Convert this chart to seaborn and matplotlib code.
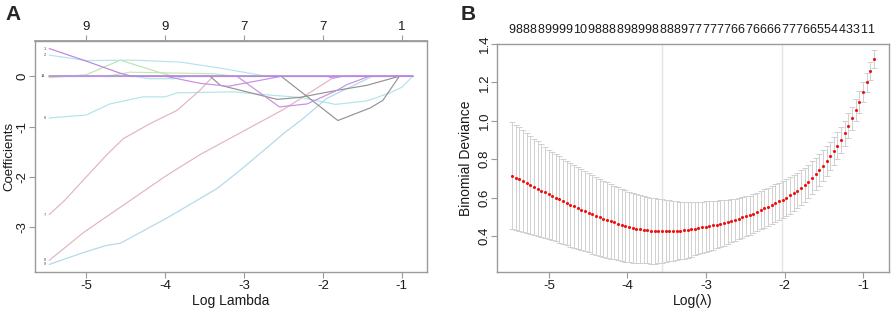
import numpy as np
import pandas as pd
import matplotlib
matplotlib.use("Agg")
import matplotlib.pyplot as plt
import matplotlib.transforms as mtransforms
import seaborn as sns

sns.set_theme(style="white")
plt.rcParams["font.family"] = ["Liberation Sans", "DejaVu Sans"]
plt.rcParams["axes.unicode_minus"] = False

# ---------------- Panel A: coefficient paths (knots) -------------
p1_x = [-5.47, -5.0, -4.57, -4.42, -0.86]
p1_y = [0.55, 0.30, 0.06, 0.0, 0.0]
p2_x = [-5.47, -5.0, -4.4, -3.8, -3.3, -2.71, -0.86]
p2_y = [0.42, 0.31, 0.32, 0.28, 0.16, 0.0, 0.0]
p3_x = [-5.47, -5.0, -4.57, -4.04, -3.9, -0.86]
p3_y = [-0.03, 0.03, 0.32, 0.06, 0.0, 0.0]
p4_x = [-5.47, -4.75, -4.45, -3.4, -3.1, -0.86]
p4_y = [0.0, 0.0, 0.08, 0.05, 0.0, 0.0]
p5_x = [-5.47, -4.4, -4.2, -3.9, -3.7, -0.86]
p5_y = [0.0, 0.0, -0.05, -0.05, 0.0, 0.0]
p6_x = [-5.47, -5.0, -4.7, -4.28, -4.0, -3.85, -3.13, -2.71, -2.29, -1.84, -1.44, -1.15, -1.0, -0.86]
p6_y = [-0.83, -0.77, -0.55, -0.41, -0.41, -0.33, -0.31, -0.37, -0.42, -0.56, -0.49, -0.33, -0.22, 0.0]
p7_x = [-5.47, -5.27, -4.74, -4.53, -4.19, -3.85, -3.56, -3.39, -0.86]
p7_y = [-2.75, -2.46, -1.56, -1.24, -0.94, -0.68, -0.28, 0.0, 0.0]
p8_x = [-5.47, -5.03, -3.98, -3.56, -2.5, -1.84, -0.86]
p8_y = [-3.66, -3.10, -1.97, -1.56, -0.66, 0.0, 0.0]
p9_x = [-5.47, -5.03, -4.74, -4.57, -3.98, -3.34, -3.05, -2.80, -2.5, -2.25, -1.95, -1.66, -1.37, -0.86]
p9_y = [-3.74, -3.5, -3.36, -3.32, -2.82, -2.23, -1.87, -1.54, -1.14, -0.84, -0.44, -0.22, 0.0, 0.0]
p10_x = [-5.47, -3.43, -3.30, -2.58, -2.29, -1.82, -1.44, -1.03, -0.86]
p10_y = [0.0, 0.0, -0.18, -0.46, -0.42, -0.28, -0.18, 0.0, 0.0]
p11_x = [-5.47, -2.53, -1.81, -1.40, -1.24, -1.03, -0.86]
p11_y = [0.0, 0.0, -0.88, -0.63, -0.48, 0.0, 0.0]
p12_x = [-5.47, -3.09, -2.55, -2.20, -1.82, -1.70, -1.41, -0.86]
p12_y = [0.0, 0.0, -0.61, -0.55, -0.28, -0.17, 0.0, 0.0]
p13_x = [-5.47, -4.0, -3.56, -3.2, -2.52, -0.86]
p13_y = [0.0, 0.0, -0.14, -0.20, 0.0, 0.0]
p14_x = [-5.47, -0.86]
p14_y = [0.0, 0.0]
p15_x = [-5.47, -1.95, -1.87, -1.75, -0.86]
p15_y = [0.0, 0.0, -0.04, 0.0, 0.0]

paths = [
    (p14_x, p14_y, "#8a9ae6"),
    (p4_x, p4_y, "#c2e8b8"),
    (p5_x, p5_y, "#b4e2ea"),
    (p3_x, p3_y, "#bde4ae"),
    (p2_x, p2_y, "#b2e6ec"),
    (p6_x, p6_y, "#b0e4ea"),
    (p7_x, p7_y, "#e2b4c2"),
    (p8_x, p8_y, "#e2b4c2"),
    (p9_x, p9_y, "#b2d8e8"),
    (p10_x, p10_y, "#939393"),
    (p11_x, p11_y, "#939393"),
    (p12_x, p12_y, "#c690e2"),
    (p13_x, p13_y, "#c690e2"),
    (p15_x, p15_y, "#bb98e2"),
    (p1_x, p1_y, "#bb84e0"),
]
path_labels = ["14", "4", "5", "3", "2", "6", "7", "8", "9", "10", "11", "12", "13", "15", "1"]

top_a_ticks = [-5, -4, -3, -2, -1]
top_a_labels = ["9", "9", "7", "7", "1"]

# ---------------- Panel B: cross-validation curve ----------------------------------
log_lambda_start = -5.47
log_lambda_end = -0.86
n_lambda = 100
cvm = [0.714, 0.704, 0.695, 0.685, 0.676, 0.666, 0.656, 0.646, 0.636, 0.627,
       0.617, 0.608, 0.599, 0.590, 0.580, 0.571, 0.562, 0.554, 0.545, 0.537,
       0.528, 0.520, 0.512, 0.504, 0.496, 0.489, 0.482, 0.476, 0.470, 0.464,
       0.458, 0.452, 0.447, 0.442, 0.438, 0.434, 0.432, 0.430, 0.428, 0.426,
       0.425, 0.425, 0.425, 0.426, 0.426, 0.427, 0.428, 0.430, 0.432, 0.435,
       0.438, 0.441, 0.444, 0.448, 0.451, 0.455, 0.459, 0.464, 0.468, 0.473,
       0.478, 0.484, 0.490, 0.496, 0.502, 0.508, 0.516, 0.525, 0.534, 0.543,
       0.553, 0.562, 0.571, 0.580, 0.589, 0.599, 0.611, 0.623, 0.636, 0.650,
       0.665, 0.683, 0.702, 0.722, 0.744, 0.766, 0.790, 0.816, 0.843, 0.871,
       0.900, 0.935, 0.975, 1.013, 1.055, 1.098, 1.150, 1.200, 1.258, 1.322]
cvsd = [0.280, 0.275, 0.270, 0.265, 0.260, 0.255, 0.250, 0.246, 0.241, 0.237,
        0.232, 0.230, 0.227, 0.225, 0.222, 0.220, 0.218, 0.215, 0.213, 0.210,
        0.208, 0.206, 0.204, 0.203, 0.201, 0.199, 0.197, 0.195, 0.192, 0.190,
        0.188, 0.186, 0.184, 0.181, 0.179, 0.177, 0.175, 0.173, 0.172, 0.170,
        0.168, 0.165, 0.162, 0.159, 0.156, 0.153, 0.150, 0.148, 0.145, 0.143,
        0.140, 0.137, 0.135, 0.132, 0.130, 0.127, 0.124, 0.121, 0.118, 0.115,
        0.112, 0.110, 0.108, 0.106, 0.104, 0.102, 0.101, 0.101, 0.100, 0.100,
        0.099, 0.099, 0.098, 0.098, 0.097, 0.097, 0.096, 0.094, 0.093, 0.091,
        0.090, 0.088, 0.086, 0.084, 0.082, 0.080, 0.078, 0.075, 0.073, 0.070,
        0.068, 0.065, 0.063, 0.060, 0.058, 0.055, 0.053, 0.050, 0.048, 0.045]
nzero_labels = [9, 8, 8, 8, 8, 9, 9, 9, 9, 10, 9, 8, 8, 8, 8, 9, 8, 9, 9, 8, 8, 8, 8, 9,
                7, 7, 7, 7, 7, 7, 6, 6, 7, 6, 6, 6, 6, 7, 7, 7, 6, 6, 5, 5, 4, 4, 3, 3, 1, 1]
lambda_min_log = -3.56
lambda_1se_log = -2.03

log_lambda = np.linspace(log_lambda_start, log_lambda_end, n_lambda)
df_cv = pd.DataFrame({"loglam": log_lambda, "cvm": cvm, "cvsd": cvsd})

# ---------------- Figure ---------------------------------------------------------
W, H = 892, 309
fig = plt.figure(figsize=(W / 100, H / 100), dpi=100)

def px_axes(l, t, r, b):
    return fig.add_axes([l / W, 1 - b / H, (r - l) / W, (b - t) / H])

axA = px_axes(35, 41, 427, 272)
axB = px_axes(497, 44, 889, 272)

box_col = "#9a9a9a"
txt_col = "#1a1a1a"

def style(ax):
    for s in ax.spines.values():
        s.set_color(box_col)
        s.set_linewidth(1.0)
        s.set_visible(True)
    ax.tick_params(axis="both", direction="out", length=4, width=0.8, color=box_col,
                   labelsize=9.5, labelcolor=txt_col, pad=2, bottom=True, left=True)
    ax.tick_params(axis="y", pad=0.5)
    ax.grid(False)
    ax.set_facecolor("white")
    for lab in ax.get_yticklabels():
        lab.set_rotation(90)
        lab.set_va("center")

# Panel A
labelled_starts = []
for (xs, ys, c), lab in zip(paths, path_labels):
    sns.lineplot(x=xs, y=ys, ax=axA, color=c, linewidth=0.85, sort=False, estimator=None)
    if all(abs(ys[0] - v) > 0.06 for v in labelled_starts):
        axA.text(-5.515, ys[0], lab, fontsize=2.8, color="#444444", ha="right", va="center")
        labelled_starts.append(ys[0])

axA.set_xlim(-5.65, -0.68)
axA.set_ylim(-3.89, 0.70)
axA.set_xticks([-5, -4, -3, -2, -1])
axA.set_yticks([0, -1, -2, -3])
axA.set_yticklabels(["0", "-1", "-2", "-3"])
style(axA)
axA.set_xlabel("Log Lambda", fontsize=10, color=txt_col, labelpad=1)
axA.set_ylabel("Coefficients", fontsize=9.5, color=txt_col)
axA.yaxis.set_label_coords((15 - 35) / 392, 0.5)
secA = axA.secondary_xaxis("top")
secA.set_xticks(top_a_ticks)
secA.set_xticklabels(top_a_labels)
secA.tick_params(direction="out", length=4, width=0.8, color=box_col, labelsize=9.5,
                 labelcolor=txt_col, pad=2)
secA.spines["top"].set_color(box_col)

# Panel B
axB.axvline(lambda_min_log, color="#e4e4e4", linewidth=1.0, zorder=0)
axB.axvline(lambda_1se_log, color="#e4e4e4", linewidth=1.0, zorder=0)
axB.errorbar(df_cv["loglam"], df_cv["cvm"], yerr=df_cv["cvsd"], fmt="none",
             ecolor="#d0d0d0", elinewidth=0.7, capsize=2.3, capthick=0.7, zorder=1)
sns.scatterplot(data=df_cv, x="loglam", y="cvm", ax=axB, color="#ee1111", s=5,
                linewidth=0, zorder=3)
axB.set_xlim(-5.66, -0.67)
axB.set_ylim(0.212, 1.40)
axB.set_xticks([-5, -4, -3, -2, -1])
axB.set_yticks([0.4, 0.6, 0.8, 1.0, 1.2, 1.4])
axB.set_yticklabels(["0.4", "0.6", "0.8", "1.0", "1.2", "1.4"])
style(axB)
axB.set_xlabel("Log(λ)", fontsize=10, color=txt_col, labelpad=1)
axB.set_ylabel("Binomial Deviance", fontsize=10, color=txt_col)
axB.yaxis.set_label_coords((473 - 497) / 392, 0.5)

# top labels laid out as a continuous row over the lambda range (as R drops overlaps)
trB = mtransforms.blended_transform_factory(axB.transData, axB.transAxes)
n_chars = sum(len(str(v)) for v in nzero_labels)
char_step = (log_lambda[98] - log_lambda[0]) / (n_chars - 1)
offset = 0
for lab in nzero_labels:
    s = str(lab)
    centre = log_lambda[0] + (offset + (len(s) - 1) / 2) * char_step
    axB.text(centre, 1.035, s, transform=trB, fontsize=9, color=txt_col,
             ha="center", va="bottom")
    offset += len(s)

fig.text(5 / W, 1 - 15 / H, "A", fontsize=15, fontweight="bold", ha="left", va="center")
fig.text(461 / W, 1 - 15 / H, "B", fontsize=15, fontweight="bold", ha="left", va="center")

fig.savefig("out.png", dpi=100, facecolor="white")
